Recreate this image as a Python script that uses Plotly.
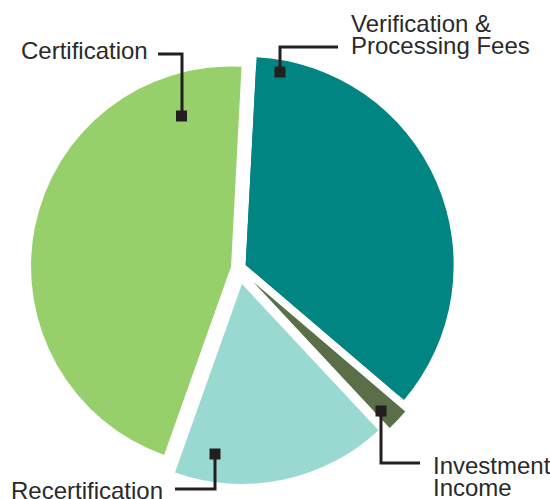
import plotly.graph_objects as go

# Data
categories = ["Verification &<br>Processing Fees", "Investment Income", "Recertification", "Certification"]
values = [35.4, 1.8, 17.4, 45.4]
colors = ["#008582", "#5A6E48", "#9AD9D1", "#97D06A"]
pulls = [0.0385, 0.1, 0.082, 0.0385]

W, H = 550, 499
CX, CY = 238.6, 268  # pie centre in window pixels

def px(x):
    return x / W

def py(y):
    return 1 - y / H

def dom(half):
    return dict(x=[px(CX - half), px(CX + half)], y=[py(CY + half), py(CY - half)])

fig = go.Figure()
# main pie
fig.add_trace(go.Pie(
    labels=categories, values=values,
    marker=dict(colors=colors, line=dict(width=0)),
    pull=pulls, sort=False, direction="clockwise", rotation=3,
    textinfo="none", hoverinfo="label+percent", showlegend=False,
    domain=dom(200 * (1 + max(pulls))),
))
# the Verification slice is drawn with a slightly larger radius in the original
v_pull = 7.7 / 208
fig.add_trace(go.Pie(
    labels=categories, values=values,
    marker=dict(colors=[colors[0]] + ["rgba(0,0,0,0)"] * 3, line=dict(width=0)),
    pull=[v_pull, 0, 0, 0], sort=False, direction="clockwise", rotation=3,
    textinfo="none", hoverinfo="skip", showlegend=False,
    domain=dom(208 * (1 + v_pull)),
))

ink = "#231F20"
font = dict(family="Liberation Sans, Arial, sans-serif", size=24, color="#2A2A2A")

# label texts: (text, x_left, y_mid)
label_texts = [
    ("Certification", 19, 51),
    ("Verification &", 349, 23),
    ("Processing Fees", 349, 46),
    ("Recertification", 9, 490),
    ("Investment", 431, 465),
    ("Income", 431, 487),
]
for t, x, y in label_texts:
    fig.add_annotation(text=t, x=px(x), y=py(y), xref="paper", yref="paper",
                       xanchor="left", yanchor="middle", showarrow=False, font=font)

# leader lines (polyline points) and squares
leaders = [
    [(158, 54), (182, 54), (182, 116)],
    [(338, 47), (280, 47), (280, 72)],
    [(175, 489), (215, 489), (215, 454)],
    [(381, 411), (381, 463), (420, 463)],
]
squares = [(181.5, 116), (280, 72), (215, 454), (381, 411)]

for pts in leaders:
    path = "M " + " L ".join(f"{px(x)},{py(y)}" for x, y in pts)
    fig.add_shape(type="path", path=path, xref="paper", yref="paper",
                  line=dict(color=ink, width=3))
s = 5.5
for x, y in squares:
    fig.add_shape(type="rect", xref="paper", yref="paper",
                  x0=px(x - s), x1=px(x + s), y0=py(y + s), y1=py(y - s),
                  fillcolor=ink, line=dict(width=0))

fig.update_layout(
    width=W, height=H,
    margin=dict(l=0, r=0, t=0, b=0),
    paper_bgcolor="white",
    plot_bgcolor="white",
)

fig.write_html(
    "out.html",
    config={"displayModeBar": False},
    post_script="document.body.style.margin='0';document.body.style.overflow='hidden';",
)
